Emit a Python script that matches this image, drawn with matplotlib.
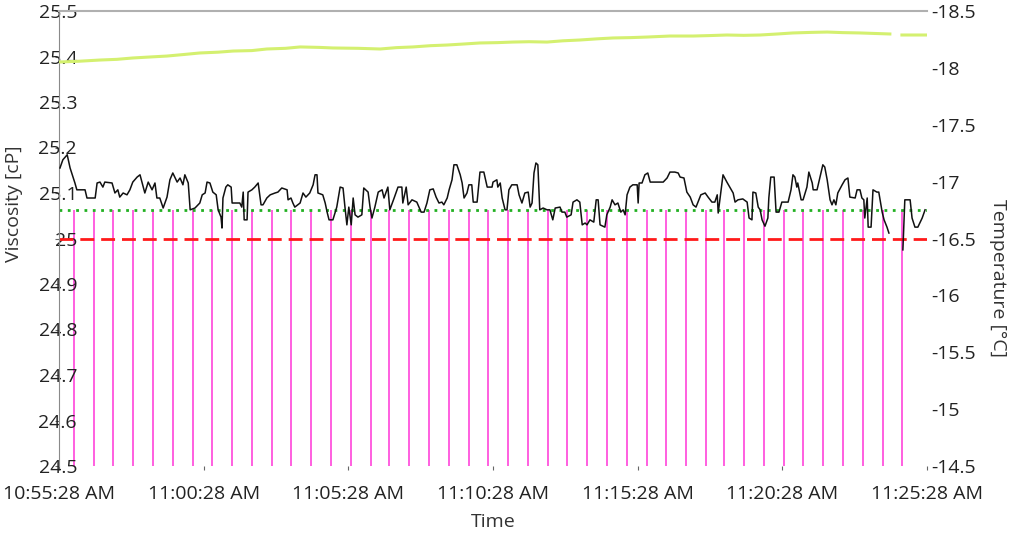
import numpy as np
import matplotlib
matplotlib.use('Agg')
import matplotlib.pyplot as plt
from matplotlib.ticker import FuncFormatter

plt.rcParams['font.family'] = ['Open Sans', 'DejaVu Sans']

# seconds after 10:55:28 AM
visc_t = [2, 8, 17, 23, 29, 33, 37, 54, 58, 75, 79, 85, 91, 95, 110, 116, 122, 126, 133, 141,
          147, 153, 162, 168, 172, 178, 185, 193, 199, 203, 209, 216, 224, 230, 236, 245, 251, 257, 261, 268,
          272, 282, 292, 297, 303, 307, 313, 319, 326, 330, 336, 338, 340, 346, 350, 357, 359, 375, 379, 382,
          384, 390, 392, 400, 406, 413, 419, 423, 431, 438, 448, 454, 462, 473, 475, 481, 485, 489, 500, 506,
          512, 520, 527, 531, 535, 537, 547, 552, 556, 560, 568, 576, 583, 589, 593, 597, 601, 606, 610, 614,
          620, 628, 632, 641, 645, 649, 655, 662, 670, 674, 682, 686, 695, 703, 711, 713, 720, 724, 732, 742,
          751, 757, 763, 769, 776, 782, 788, 794, 798, 805, 809, 815, 819, 825, 832, 836, 840, 846, 850, 856,
          859, 867, 873, 881, 888, 898, 900, 908, 910, 915, 919, 925, 929, 933, 939, 950, 954, 960, 966, 973,
          977, 981, 985, 989, 993, 997, 1004, 1012, 1018, 1024, 1029, 1039, 1043, 1049, 1053, 1062, 1066, 1074, 1080, 1085,
          1091, 1095, 1101, 1109, 1114, 1118, 1122, 1132, 1136, 1143, 1147, 1153, 1159, 1165, 1170, 1174, 1178, 1184, 1190, 1199,
          1201, 1203, 1209, 1215, 1221, 1226, 1232, 1253, 1261, 1267, 1277, 1284, 1288, 1296, 1302, 1309, 1315, 1321, 1325, 1331,
          1340, 1346, 1354, 1360, 1365, 1367, 1371, 1377, 1385, 1391, 1398, 1402, 1408, 1418, 1427, 1431, 1437, 1439, 1445, 1450,
          1454, 1458, 1464, 1470, 1472, 1476, 1483, 1487, 1493, 1499, 1506, 1512, 1518, 1522, 1526, 1530, 1532, 1539, 1543, 1551,
          1555, 1562, 1564, 1572, 1578, 1584, 1588, 1593, 1599, 1603, 1607, 1611, 1615, 1624, 1630, 1636, 1640, 1651, 1655, 1661,
          1665, 1669, 1671, 1676, 1678, 1684, 1686, 1688, 1696, 1700, 1707, 1711, 1717, 1721, 1735, 1750, 1752, 1754, 1765, 1769,
          1775, 1781, 1790, 1796]
visc_v = [25.155, 25.173, 25.184, 25.155, 25.135, 25.122, 25.107, 25.107, 25.089, 25.089, 25.122, 25.124, 25.113, 25.124, 25.122, 25.100, 25.107, 25.091, 25.100, 25.096,
          25.107, 25.124, 25.135, 25.140, 25.124, 25.100, 25.124, 25.107, 25.122, 25.089, 25.089, 25.067, 25.091, 25.129, 25.144, 25.124, 25.133, 25.118, 25.140, 25.122,
          25.063, 25.067, 25.078, 25.096, 25.100, 25.124, 25.122, 25.102, 25.096, 25.063, 25.047, 25.023, 25.089, 25.113, 25.118, 25.113, 25.078, 25.078, 25.069, 25.102,
          25.041, 25.041, 25.102, 25.107, 25.113, 25.122, 25.074, 25.074, 25.089, 25.096, 25.100, 25.102, 25.111, 25.107, 25.085, 25.089, 25.078, 25.069, 25.078, 25.100,
          25.091, 25.100, 25.118, 25.140, 25.140, 25.100, 25.096, 25.078, 25.058, 25.041, 25.041, 25.069, 25.113, 25.111, 25.069, 25.030, 25.069, 25.030, 25.089, 25.052,
          25.047, 25.052, 25.111, 25.102, 25.069, 25.045, 25.069, 25.102, 25.107, 25.089, 25.113, 25.063, 25.089, 25.113, 25.113, 25.078, 25.113, 25.074, 25.085, 25.080,
          25.058, 25.058, 25.078, 25.107, 25.109, 25.091, 25.078, 25.080, 25.074, 25.089, 25.107, 25.129, 25.162, 25.162, 25.140, 25.122, 25.089, 25.100, 25.118, 25.118,
          25.080, 25.080, 25.146, 25.146, 25.113, 25.113, 25.124, 25.129, 25.113, 25.122, 25.089, 25.063, 25.063, 25.107, 25.118, 25.118, 25.096, 25.078, 25.100, 25.102,
          25.069, 25.078, 25.144, 25.166, 25.162, 25.063, 25.067, 25.063, 25.063, 25.041, 25.067, 25.069, 25.058, 25.058, 25.047, 25.052, 25.080, 25.085, 25.080, 25.030,
          25.034, 25.030, 25.041, 25.036, 25.085, 25.085, 25.030, 25.025, 25.052, 25.069, 25.085, 25.074, 25.078, 25.058, 25.063, 25.052, 25.096, 25.113, 25.118, 25.118,
          25.078, 25.122, 25.122, 25.140, 25.144, 25.124, 25.124, 25.124, 25.133, 25.146, 25.146, 25.144, 25.135, 25.133, 25.102, 25.091, 25.074, 25.069, 25.080, 25.096,
          25.100, 25.091, 25.080, 25.080, 25.096, 25.056, 25.089, 25.140, 25.124, 25.113, 25.100, 25.080, 25.085, 25.087, 25.080, 25.045, 25.041, 25.102, 25.100, 25.069,
          25.063, 25.041, 25.027, 25.045, 25.089, 25.135, 25.135, 25.058, 25.058, 25.080, 25.080, 25.080, 25.107, 25.140, 25.135, 25.113, 25.122, 25.085, 25.085, 25.113,
          25.146, 25.122, 25.107, 25.107, 25.135, 25.162, 25.157, 25.129, 25.085, 25.074, 25.085, 25.074, 25.100, 25.118, 25.129, 25.133, 25.091, 25.089, 25.107, 25.107,
          25.089, 25.085, 25.045, 25.089, 25.025, 25.025, 25.067, 25.107, 25.102, 25.102, 25.058, 25.041, 25.025, 25.012, np.nan, 24.975, 25.030, 25.085, 25.085, 25.045,
          25.025, 25.025, 25.045, 25.063]

temp_t = [2, 40, 85, 120, 153, 190, 224, 260, 292, 330, 361, 400, 431, 470, 500, 540, 568, 620, 666, 700, 734, 770, 805,
          840, 873, 910, 941, 975, 1012, 1045, 1080, 1115, 1149, 1185, 1219, 1267, 1315, 1350, 1385, 1420, 1454, 1490, 1522,
          1560, 1593, 1625, 1661, 1695, 1723, 1735, 1748, 1800]
temp_v = [-18.052, -18.058, -18.069, -18.075, -18.087, -18.096, -18.104, -18.118, -18.131, -18.138, -18.148, -18.152, -18.166,
          -18.172, -18.184, -18.180, -18.175, -18.172, -18.166, -18.178, -18.184, -18.195, -18.201, -18.210, -18.219, -18.222,
          -18.227, -18.230, -18.227, -18.238, -18.245, -18.255, -18.263, -18.266, -18.271, -18.280, -18.280, -18.284, -18.289,
          -18.286, -18.289, -18.298, -18.307, -18.312, -18.315, -18.310, -18.307, -18.302, -18.298, np.nan, -18.289, -18.289]

# event markers
event_t = [31, 73, 112, 153, 195, 236, 278, 317, 359, 400, 442, 481, 523, 564, 606, 647, 684, 726, 767, 809,
           850, 890, 932, 973, 1014, 1053, 1095, 1136, 1178, 1219, 1259, 1300, 1342, 1379, 1420, 1462, 1503, 1543, 1584, 1626,
           1667, 1709, 1748]

limit_upper = 25.063
limit_lower = 25.0

x_ticks = [0, 300, 600, 900, 1200, 1500, 1800]
x_labels = ['10:55:28 AM', '11:00:28 AM', '11:05:28 AM', '11:10:28 AM', '11:15:28 AM', '11:20:28 AM', '11:25:28 AM']

fs = 14

fig = plt.figure(figsize=(10.1, 5.38), dpi=100)
ax = fig.add_axes([59 / 1010, 72 / 538, 868 / 1010, 455 / 538])

ax.vlines(event_t, 24.5, limit_upper, color='#ff5fe0', lw=1.4, zorder=1)
ax.axhline(limit_upper, color='#22b022', lw=2, ls=(0, (1, 2)), zorder=2)
ax.axhline(limit_lower, color='#ff1a1a', lw=2, ls=(0, (5, 2.5)), zorder=2)
ax.plot(visc_t, visc_v, color='#111111', lw=1.1, zorder=3)

ax.set_xlim(0, 1800)
ax.set_ylim(24.5, 25.5)
ax.set_yticks(np.round(np.arange(24.5, 25.51, 0.1), 1))
ax.yaxis.set_major_formatter(FuncFormatter(lambda v, p: '%g' % round(v, 1)))
ax.set_xticks(x_ticks)
ax.set_xticklabels(x_labels)

for s in ['right', 'bottom']:
    ax.spines[s].set_visible(False)
ax.spines['left'].set_color('#8a8a8a')
ax.spines['top'].set_color('#b0b0b0')
ax.spines['top'].set_linewidth(1.5)

ax.tick_params(axis='y', length=3, color='#666666', pad=-16, labelsize=fs, labelcolor='#222222')
ax.tick_params(axis='x', length=3, color='#666666', pad=11, labelsize=fs, labelcolor='#222222')
ax.set_xlabel('Time', fontsize=fs, color='#333333', labelpad=7)
ax.set_ylabel('Viscosity [cP]', fontsize=fs, color='#333333')
ax.yaxis.set_label_coords(-0.042, 0.576)

ax2 = ax.twinx()
ax2.plot(temp_t, temp_v, color='#d4f070', lw=2.2, zorder=4)
ax2.set_ylim(-14.5, -18.5)
ax2.set_yticks([-18.5, -18, -17.5, -17, -16.5, -16, -15.5, -15, -14.5])
ax2.yaxis.set_major_formatter(FuncFormatter(lambda v, p: '%g' % v))
for s in ['right', 'bottom', 'left', 'top']:
    ax2.spines[s].set_visible(False)
ax2.tick_params(axis='y', length=0, pad=3, labelsize=fs, labelcolor='#222222')
ax2.set_ylabel('Temperature [°C]', fontsize=fs, color='#333333', rotation=-90, va='bottom')
ax2.yaxis.set_label_coords(1.072, 0.413)

fig.savefig('out.png', dpi=100)
